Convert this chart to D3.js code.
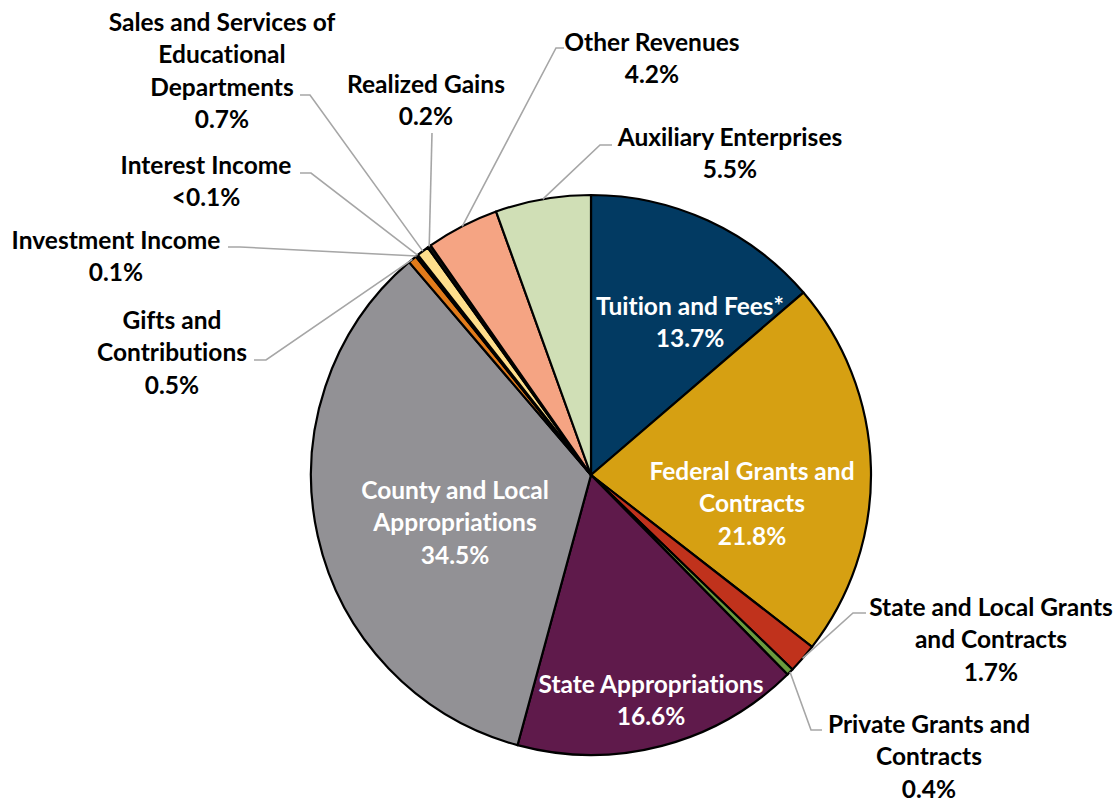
<!DOCTYPE html>
<html><head><meta charset="utf-8">
<script src="https://cdn.jsdelivr.net/npm/d3@7"></script>
<style>body{margin:0;background:#fff}svg{display:block}text,tspan{font-family:Lato,"Open Sans",sans-serif;font-weight:700;font-variant-ligatures:none;font-feature-settings:"liga" 0,"clig" 0,"dlig" 0,"calt" 0}</style>
</head><body><svg id="c" width="1120" height="804"></svg>
<script>
const categories = ["Tuition and Fees*","Federal Grants and Contracts","State and Local Grants and Contracts","Private Grants and Contracts","State Appropriations","County and Local Appropriations","Gifts and Contributions","Investment Income","Interest Income","Sales and Services of Educational Departments","Realized Gains","Other Revenues","Auxiliary Enterprises"];
const values = [13.7,21.8,1.7,0.4,16.6,34.5,0.5,0.1,0.05,0.7,0.2,4.2,5.5];
const valueLabels = ["13.7%","21.8%","1.7%","0.4%","16.6%","34.5%","0.5%","0.1%","<0.1%","0.7%","0.2%","4.2%","5.5%"];
const colors = ["#023A62","#D6A012","#C0321C","#6B9B3D","#5F1A4B","#929195","#E17B1B","#111111","#111111","#FEDE8C","#111111","#F5A483","#D0DFB6"];

// label layout: text lines, centre x, first line centre y, colour, leader line points (after arc point)
const layout = [
  {lines:["Tuition and Fees*"], x:690, y:306, fill:"#fff"},
  {lines:["Federal Grants and","Contracts"], x:752, y:471, fill:"#fff"},
  {lines:["State and Local Grants","and Contracts"], x:991, y:607, fill:"#000", leader:[[853,613],[866,613]]},
  {lines:["Private Grants and","Contracts"], x:929, y:724, fill:"#000", leader:[[811,730],[822,730]]},
  {lines:["State Appropriations"], x:651, y:684, fill:"#fff"},
  {lines:["County and Local","Appropriations"], x:455, y:490, fill:"#fff"},
  {lines:["Gifts and","Contributions"], x:172, y:320, fill:"#000", leader:[[266,360],[254,360]]},
  {lines:["Investment Income"], x:116, y:240, fill:"#000", leader:[[240,247],[228,247]]},
  {lines:["Interest Income"], x:206, y:165, fill:"#000", leader:[[311,173],[300,173]]},
  {lines:["Sales and Services of","Educational","Departments"], x:222, y:22, fill:"#000", leader:[[310,95],[300,95]]},
  {lines:["Realized Gains"], x:426, y:84, fill:"#000", leader:[[432,133]]},
  {lines:["Other Revenues"], x:652, y:42, fill:"#000", leader:[[556,48],[564,48]]},
  {lines:["Auxiliary Enterprises"], x:730, y:137, fill:"#000", leader:[[600,145],[612,145]]}
];

const svg = d3.select("#c");
const cx = 591, cy = 475, r = 280;
const g = svg.append("g").attr("transform", `translate(${cx},${cy})`);
const pie = d3.pie().sort(null).value(d => d);
const arcs = pie(values);
const arc = d3.arc().innerRadius(0).outerRadius(r);

g.selectAll("path.s").data(arcs).join("path").attr("class","s")
  .attr("d", arc).attr("fill", (d,i) => colors[i])
  .attr("stroke", "#000").attr("stroke-width", 2.2).attr("stroke-linejoin","round");

// leader lines
const lineGen = d3.line();
arcs.forEach((d,i) => {
  const L = layout[i];
  if (!L.leader) return;
  const a = (d.startAngle + d.endAngle)/2;
  const p0 = [cx + r*Math.sin(a), cy - r*Math.cos(a)];
  svg.append("path").attr("d", lineGen([p0, ...L.leader]))
    .attr("fill","none").attr("stroke","#A6A6A6").attr("stroke-width",1.6);
});

const lh = 32.5;
layout.forEach((L,i) => {
  const t = svg.append("text").attr("text-anchor","middle").attr("fill",L.fill)
    .attr("font-size",24.5).attr("letter-spacing","0.01px");
  const all = [...L.lines, valueLabels[i]];
  all.forEach((s,k) => {
    t.append("tspan").attr("x", L.x).attr("y", L.y + k*lh).attr("dy","0.35em").text(s);
  });
});
</script></body></html>
